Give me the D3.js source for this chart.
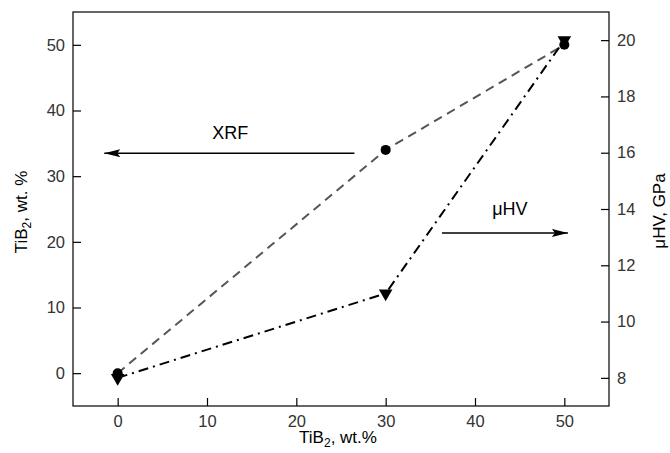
<!DOCTYPE html>
<html><head><meta charset="utf-8">
<script src="https://cdn.jsdelivr.net/npm/d3@7"></script>
<style>body{margin:0;background:#fff}svg{display:block}text{font-family:"Liberation Sans",Arial,sans-serif}</style>
</head><body>
<script>
const tib2 = [0, 30, 50];
const xrf = [0, 34, 50];
const uhv = [8, 11, 20];
const xTicks = [0, 10, 20, 30, 40, 50];
const yLeftTicks = [0, 10, 20, 30, 40, 50];
const yRightTicks = [8, 10, 12, 14, 16, 18, 20];

const W = 670, H = 453;
const m = {l: 73, r: 61, t: 12, b: 47};
const svg = d3.select("body").append("svg").attr("width", W).attr("height", H);
const x = d3.scaleLinear().domain([-5, 55]).range([m.l, W - m.r]);
const yL = d3.scaleLinear().domain([-5, 55]).range([H - m.b, m.t]);
const yR = d3.scaleLinear().domain([7, 21]).range([H - m.b, m.t]);

const fs = 16.5, tc = "#333", ff = '"Liberation Sans",Arial,sans-serif';
const gx = svg.append("g").attr("transform", `translate(0,${H - m.b})`)
  .call(d3.axisBottom(x).tickValues(xTicks).tickSizeInner(-8).tickSizeOuter(0).tickPadding(9));
const gl = svg.append("g").attr("transform", `translate(${m.l},0)`)
  .call(d3.axisLeft(yL).tickValues(yLeftTicks).tickSizeInner(-8).tickSizeOuter(0).tickPadding(8));
const gr = svg.append("g").attr("transform", `translate(${W - m.r},0)`)
  .call(d3.axisRight(yR).tickValues(yRightTicks).tickSizeInner(-8).tickSizeOuter(0).tickPadding(8));
[gx, gl, gr].forEach(g => {
  g.select(".domain").remove();
  g.selectAll("line").attr("stroke", "#000").attr("stroke-width", 1.2);
  g.selectAll("text").attr("font-size", fs).attr("fill", tc).attr("font-family", ff);
});
svg.append("rect").attr("x", m.l).attr("y", m.t).attr("width", W - m.l - m.r).attr("height", H - m.t - m.b)
  .attr("fill", "none").attr("stroke", "#000").attr("stroke-width", 1.2);

// lines
const lx = d3.line().x((d, i) => x(tib2[i])).y(d => yL(d));
const lr = d3.line().x((d, i) => x(tib2[i])).y(d => yR(d));
svg.append("path").attr("d", lx(xrf)).attr("fill", "none").attr("stroke", "#555").attr("stroke-width", 2).attr("stroke-dasharray", "9,6");
svg.append("path").attr("d", lr(uhv)).attr("fill", "none").attr("stroke", "#000").attr("stroke-width", 2).attr("stroke-dasharray", "10,5,2,5");

// markers
svg.selectAll(".c").data(xrf).enter().append("circle")
  .attr("cx", (d, i) => x(tib2[i])).attr("cy", d => yL(d)).attr("r", 5).attr("fill", "#000");
const tri = d3.symbol().type(d3.symbolTriangle).size(80);
svg.selectAll(".t").data(uhv).enter().append("path")
  .attr("d", tri).attr("fill", "#000")
  .attr("transform", (d, i) => `translate(${x(tib2[i])},${yR(d)}) rotate(180)`);

// arrows
const defs = svg.append("defs");
defs.append("marker").attr("id", "ah").attr("viewBox", "0 0 16 8").attr("refX", 16).attr("refY", 4)
  .attr("markerWidth", 16).attr("markerHeight", 8).attr("markerUnits", "userSpaceOnUse").attr("orient", "auto")
  .append("path").attr("d", "M0,0L16,4L0,8L3,4Z").attr("fill", "#000");
svg.append("line").attr("x1", x(26.5)).attr("x2", x(-1.5)).attr("y1", yL(33.5)).attr("y2", yL(33.5))
  .attr("stroke", "#000").attr("stroke-width", 1.5).attr("marker-end", "url(#ah)");
svg.append("text").attr("x", x(12.6)).attr("y", yL(35.7)).attr("text-anchor", "middle").attr("font-size", 18).text("XRF");
svg.append("line").attr("x1", x(36.3)).attr("x2", x(50.4)).attr("y1", yR(13.15)).attr("y2", yR(13.15))
  .attr("stroke", "#000").attr("stroke-width", 1.5).attr("marker-end", "url(#ah)");
svg.append("text").attr("x", x(43.9)).attr("y", yR(13.79)).attr("text-anchor", "middle").attr("font-size", 18).text("μHV");

// axis labels
const lab = (t, rest) => { t.append("tspan").text("TiB"); t.append("tspan").attr("font-size", 12).attr("dy", 4).text("2"); t.append("tspan").attr("dy", -4).text(rest); };
const xl = svg.append("text").attr("x", 338).attr("y", 443).attr("text-anchor", "middle").attr("font-size", 17);
lab(xl, ", wt.%");
const yl = svg.append("text").attr("transform", `translate(27,${(m.t + H - m.b) / 2 + 3}) rotate(-90)`).attr("text-anchor", "middle").attr("font-size", 17);
lab(yl, ", wt. %");
svg.append("text").attr("transform", `translate(665,${(m.t + H - m.b) / 2 + 2}) rotate(-90)`).attr("text-anchor", "middle").attr("font-size", 17).text("μHV, GPa");
</script>
</body></html>
